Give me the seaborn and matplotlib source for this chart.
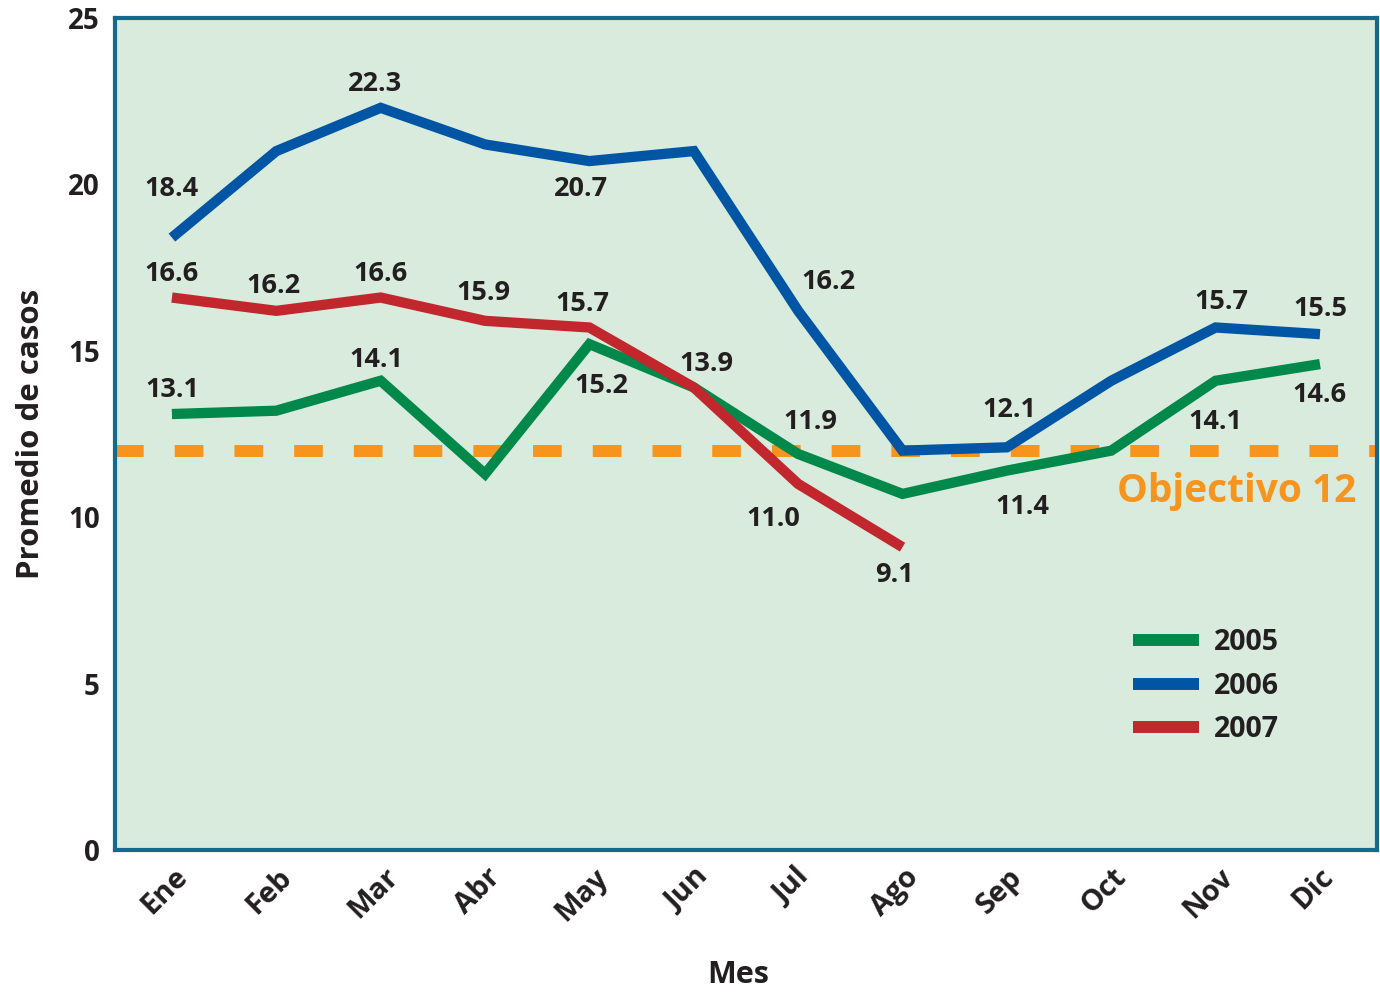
import numpy as np
import pandas as pd
import seaborn as sns
import matplotlib.pyplot as plt
import matplotlib.transforms as mtransforms

months = ["Ene", "Feb", "Mar", "Abr", "May", "Jun",
          "Jul", "Ago", "Sep", "Oct", "Nov", "Dic"]
casos_2005 = [13.1, 13.2, 14.1, 11.3, 15.2, 13.9, 11.9, 10.7, 11.4, 12.0, 14.1, 14.6]
casos_2006 = [18.4, 21.0, 22.3, 21.2, 20.7, 21.0, 16.2, 12.0, 12.1, 14.1, 15.7, 15.5]
casos_2007 = [16.6, 16.2, 16.6, 15.9, 15.7, 13.9, 11.0, 9.1]
objetivo = 12

# which points get a value label, and where (offset in points)
labels_2005 = {0: (0, 17), 2: (-3, 15), 4: (9, -30), 6: (9, 23), 8: (11, -26), 10: (0, -30), 11: (0, -22)}
labels_2006 = {0: (0, 35), 2: (-4, 17), 4: (-6, -20), 6: (22, 21), 8: (2, 27), 10: (4, 18), 11: (0, 18)}
labels_2007 = {0: (0, 17), 1: (-2, 18), 2: (0, 17), 3: (-1, 20), 4: (-5, 17), 5: (9, 17), 6: (-18, -25), 7: (-6, -20)}

colors = {"2005": "#00894b", "2006": "#0055a5", "2007": "#c1272d"}
ink = "#231f20"

rows = []
for year, vals in [("2005", casos_2005), ("2006", casos_2006), ("2007", casos_2007)]:
    for i, v in enumerate(vals):
        rows.append({"mes": i, "casos": v, "year": year})
df = pd.DataFrame(rows)

sns.set_style("white")
plt.rcParams["font.family"] = ["Open Sans", "DejaVu Sans"]
plt.rcParams["font.weight"] = "bold"

fig = plt.figure(figsize=(13.8, 9.92), dpi=100)
ax = fig.add_axes([0.0833, 0.1431, 0.9145, 0.8388])
ax.set_facecolor("#d8ebdd")

ax.axhline(objetivo, color="#f7941d", lw=8.6, dashes=(2.4, 2.6),
           solid_capstyle="butt", dash_capstyle="butt", zorder=1)

sns.lineplot(data=df, x="mes", y="casos", hue="year", palette=colors,
             linewidth=7.4, ax=ax, zorder=3)
for line in ax.get_lines()[1:]:
    line.set_solid_joinstyle("miter")
    line.set_solid_capstyle("butt")
# red on top
ax.get_lines()[3].set_zorder(4)

for vals, labs in [(casos_2005, labels_2005), (casos_2006, labels_2006), (casos_2007, labels_2007)]:
    for i, (dx, dy) in labs.items():
        ax.annotate(f"{vals[i]:.1f}", (i, vals[i]), xytext=(dx, dy),
                    textcoords="offset points", ha="center", va="center",
                    fontsize=19.5, fontweight="bold", color=ink, zorder=6)

ax.text(10.2, 10.76, "Objectivo 12", color="#f7941d", fontsize=28,
        fontweight="bold", ha="center", va="center", zorder=6)

ax.set_xlim(-0.546, 11.546)
ax.set_ylim(0, 25)
ax.set_yticks(np.arange(0, 26, 5))
ax.set_xticks(range(len(months)))
ax.set_xticklabels(months, rotation=45, ha="center")
ax.tick_params(axis="both", length=0, colors=ink)
ax.tick_params(axis="y", pad=11, labelsize=20)
ax.tick_params(axis="x", pad=9, labelsize=21)
shift = mtransforms.ScaledTranslation(-7 / 100, 0, fig.dpi_scale_trans)
for t in ax.get_xticklabels():
    t.set_transform(t.get_transform() + shift)
for t in ax.get_xticklabels() + ax.get_yticklabels():
    t.set_fontweight("bold")

ax.set_xlabel("Mes", fontsize=22, fontweight="bold", color=ink)
ax.xaxis.set_label_coords(0.494, -0.132)
ax.set_ylabel("Promedio de casos", fontsize=22.5, fontweight="bold", color=ink, labelpad=16)

for sp in ax.spines.values():
    sp.set_visible(True)
    sp.set_color("#146a8c")
    sp.set_linewidth(3)

leg = ax.legend(loc="center", bbox_to_anchor=(0.8646, 0.197), frameon=False,
                fontsize=20.5, handlelength=2.3, handletextpad=0.55, labelspacing=0.52)
for h in leg.get_lines():
    h.set_linewidth(8.6)
    h.set_solid_capstyle("butt")
for t in leg.get_texts():
    t.set_fontweight("bold")
    t.set_color(ink)

fig.savefig("out.png", dpi=100)
